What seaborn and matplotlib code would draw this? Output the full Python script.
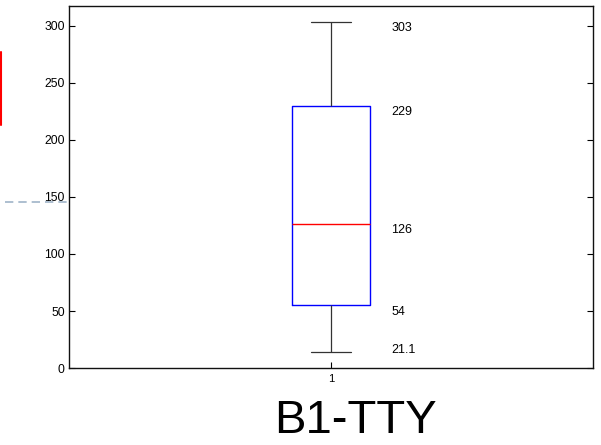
import numpy as np
import pandas as pd
import matplotlib
matplotlib.use('Agg')
import matplotlib.pyplot as plt
from matplotlib.lines import Line2D
import seaborn as sns

sns.set_style('white')
plt.rcParams['font.family'] = ['Liberation Sans', 'DejaVu Sans']
plt.rcParams['text.color'] = 'black'
plt.rcParams['xtick.color'] = 'black'
plt.rcParams['ytick.color'] = 'black'

# box statistics (whisker low, Q1, median, Q3, whisker high)
box_values = [14, 55, 126, 229.5, 303.5]
# numbers printed beside the box
label_values = [21.1, 54, 126, 229, 303]
group_name = ['1'] * len(box_values)
title_text = 'B1-TTY'

df = pd.DataFrame({'group': group_name, 'value': box_values})

fig = plt.figure(figsize=(6.01, 4.45), dpi=100)
ax = fig.add_axes([0.1148, 0.173, 0.8719, 0.8135])

sns.boxplot(data=df, x='group', y='value', ax=ax, width=0.149, fill=False,
            color='blue', linewidth=1, whis=1.5, showfliers=False,
            boxprops={'color': 'blue'},
            whiskerprops={'color': '#333333', 'linewidth': 0.9},
            capprops={'color': '#333333', 'linewidth': 0.9},
            medianprops={'color': 'red', 'linewidth': 1})

for v in label_values:
    ax.annotate('%g' % v, xy=(0.115, v), xytext=(0, -4), textcoords='offset points',
                ha='left', va='center', fontsize=9, color='black')

ax.set_xlim(-0.5, 0.5)
ax.set_ylim(0, 317.5)
ax.set_yticks(np.arange(0, 301, 50))
ax.set_xlabel('')
ax.set_ylabel('')
ax.tick_params(axis='both', direction='in', length=4, width=0.8, labelsize=8.7,
               left=True, right=True, bottom=True, top=False, pad=3)
ax.tick_params(axis='x', labelsize=8, pad=4)
for s in ax.spines.values():
    s.set_visible(True)
    s.set_color('#111111')
    s.set_linewidth(1.0)

fig.text(0.592, 0.055, title_text, ha='center', va='center', fontsize=34, color='black')

# fragments of the neighbouring panel at the left edge
fig.add_artist(Line2D([0.001, 0.001], [1 - 52 / 445, 1 - 125 / 445], color='red', linewidth=1.5))
fig.add_artist(Line2D([0.008, 0.115], [1 - 202 / 445, 1 - 202 / 445], color='#9fb4c8',
                      linewidth=1.2, linestyle=(0, (5, 3))))

fig.savefig('out.png', dpi=100)
